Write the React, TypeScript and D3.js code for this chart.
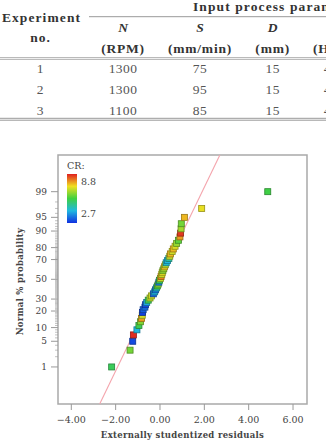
import React from "react";
import * as d3 from "d3";

// ---- table data ----
const tableCols = ["N", "S", "D", "H"];
const tableUnits = ["(RPM)", "(mm/min)", "(mm)", "(HRC)"];
const tableRows = [
  ["1", "1300", "75", "15", "450"],
  ["2", "1300", "95", "15", "450"],
  ["3", "1100", "85", "15", "450"],
];

// ---- normal plot data (sorted externally studentized residuals) ----
const residuals = [
  -2.18, -1.35, -1.23, -1.2, -1.04, -0.95, -0.88, -0.83, -0.8, -0.79,
  -0.76, -0.68, -0.65, -0.6, -0.53, -0.45, -0.38, -0.3, -0.24, -0.2,
  -0.16, -0.12, -0.08, -0.05, -0.02, 0.02, 0.05, 0.08, 0.1, 0.13,
  0.17, 0.2, 0.24, 0.28, 0.34, 0.4, 0.44, 0.47, 0.55, 0.6,
  0.68, 0.75, 0.83, 0.9, 0.93, 0.95, 0.96, 1.1, 1.88, 4.86,
];
const crValues = [
  5.5, 6.2, 3.0, 8.7, 4.2, 5.6, 6.3, 7.8, 7.0, 2.9,
  3.2, 3.4, 3.0, 4.0, 5.5, 6.8, 7.0, 3.3, 4.3, 3.5,
  4.5, 5.8, 6.4, 3.6, 5.5, 6.9, 8.0, 7.0, 7.2, 6.4,
  6.5, 7.5, 6.8, 4.4, 4.2, 4.8, 6.9, 7.6, 7.0, 7.6,
  7.1, 6.5, 6.0, 7.8, 8.6, 6.6, 6.2, 7.6, 7.2, 5.7,
];
const xTicks = [-4, -2, 0, 2, 4, 6];
const yTicks = [1, 5, 10, 20, 30, 50, 70, 80, 90, 95, 99];
const refLineX = [-2.72, 2.7];
const refLineZ = [-3.31, 3.3];
const crRange = [2.7, 8.8];

function probit(p: number): number {
  const a = [-39.69683028665376, 220.9460984245205, -275.9285104469687, 138.357751867269, -30.66479806614716, 2.506628277459239];
  const b = [-54.47609879822406, 161.5858368580409, -155.6989798598866, 66.80131188771972, -13.28068155288572];
  const c = [-0.007784894002430293, -0.3223964580411365, -2.400758277161838, -2.549671010229583, 4.374664141464968, 2.938163982698783];
  const d = [0.007784695709041462, 0.3224671290700398, 2.445134137142996, 3.754408661907416];
  const pl = 0.02425;
  if (p < pl) {
    const q = Math.sqrt(-2 * Math.log(p));
    return (((((c[0] * q + c[1]) * q + c[2]) * q + c[3]) * q + c[4]) * q + c[5]) / ((((d[0] * q + d[1]) * q + d[2]) * q + d[3]) * q + 1);
  }
  if (p > 1 - pl) {
    const q = Math.sqrt(-2 * Math.log(1 - p));
    return -(((((c[0] * q + c[1]) * q + c[2]) * q + c[3]) * q + c[4]) * q + c[5]) / ((((d[0] * q + d[1]) * q + d[2]) * q + d[3]) * q + 1);
  }
  const q = p - 0.5;
  const r = q * q;
  return ((((((a[0] * r + a[1]) * r + a[2]) * r + a[3]) * r + a[4]) * r + a[5]) * q) / (((((b[0] * r + b[1]) * r + b[2]) * r + b[3]) * r + b[4]) * r + 1);
}

export default function App() {
  const W = 326, H = 441;
  const L = 58, R = 307, T = 155, B = 404;
  const x = d3.scaleLinear().domain([-4.6, 6.63]).range([L, R]);
  const y = d3.scaleLinear().domain([-3.31, 3.3]).range([B, T]);
  const colorStops = ["#1030e0", "#20b8e0", "#40d040", "#f0e020", "#e02020"];
  const color = d3
    .scaleLinear<string>()
    .domain(d3.range(5).map((i) => crRange[0] + (i * (crRange[1] - crRange[0])) / 4))
    .range(colorStops);
  const n = residuals.length;
  const pts = residuals.map((r, i) => ({ r, z: probit((i + 0.5) / n), c: color(crValues[i]) }));
  const minor = d3.range(1, 100).filter((v) => !yTicks.includes(v));
  const grey = "#a9a9a9";
  const serif = "'DejaVu Serif', serif";
  const tser = "'Liberation Serif', serif";
  const colX = [123, 200, 272.7, 334.5];
  const rowY = [73, 94, 115.4];

  return (
    <div style={{ position: "absolute", left: 0, top: 0 }}>
      <svg width={W} height={H} style={{ display: "block", background: "#fff" }}>
        <defs>
          <linearGradient id="crgrad" x1="0" y1="1" x2="0" y2="0">
            {colorStops.map((c, i) => (
              <stop key={i} offset={`${(i / 4) * 100}%`} stopColor={c} />
            ))}
          </linearGradient>
          <clipPath id="plotclip">
            <rect x={L} y={T} width={R - L} height={B - T} />
          </clipPath>
        </defs>

        {/* ---------- table ---------- */}
        <g fontFamily={tser} fontSize={13.5} fill="#333">
          <text x={193} y={11} fontWeight="bold" letterSpacing={1.1}>Input process parameters</text>
          <line x1={89} x2={W} y1={16.7} y2={16.7} stroke="#999" strokeWidth={1} />
          <text x={41.5} y={22} textAnchor="middle" fontWeight="bold" letterSpacing={1.1}>Experiment</text>
          <text x={40.5} y={41.5} textAnchor="middle" fontWeight="bold" letterSpacing={1}>no.</text>
          {tableCols.map((c, i) => (
            <text key={c} x={colX[i]} y={32} textAnchor="middle" fontWeight="bold" fontStyle="italic">{c}</text>
          ))}
          {tableUnits.map((u, i) => (
            <text key={u} x={colX[i]} y={52.5} textAnchor="middle" fontWeight="bold" letterSpacing={0.8}>{u}</text>
          ))}
          <line x1={0} x2={W} y1={57.6} y2={57.6} stroke="#aaa" strokeWidth={0.9} />
          <line x1={0} x2={W} y1={59.4} y2={59.4} stroke="#aaa" strokeWidth={0.9} />
          {tableRows.map((row, ri) => (
            <g key={ri} fill="#555">
              <text x={40} y={rowY[ri]} textAnchor="middle">{row[0]}</text>
              {row.slice(1).map((v, ci) => (
                <text key={ci} x={colX[ci]} y={rowY[ri]} textAnchor="middle" letterSpacing={0.4}>{v}</text>
              ))}
            </g>
          ))}
          <line x1={0} x2={W} y1={118.3} y2={118.3} stroke="#999" strokeWidth={1} />
          <line x1={0} x2={W} y1={120.2} y2={120.2} stroke="#999" strokeWidth={1} />
        </g>

        {/* ---------- normal plot ---------- */}
        <rect x={L} y={T} width={R - L} height={B - T} fill="#fff" stroke={grey} strokeWidth={1.5} />

        {/* y ticks */}
        {minor.map((v) => (
          <line key={`m${v}`} x1={L - 3} x2={L} y1={y(probit(v / 100))} y2={y(probit(v / 100))} stroke="#999" strokeWidth={0.6} />
        ))}
        {yTicks.map((v) => (
          <g key={`y${v}`}>
            <line x1={L - 7} x2={L} y1={y(probit(v / 100))} y2={y(probit(v / 100))} stroke="#999" strokeWidth={1} />
            <text x={47} y={y(probit(v / 100))} dy="0.35em" textAnchor="end" fontFamily={serif} fontSize={9} fill="#444">{v}</text>
          </g>
        ))}

        {/* x ticks */}
        {xTicks.map((v) => (
          <g key={`x${v}`}>
            <line x1={x(v)} x2={x(v)} y1={B} y2={B + 6} stroke="#999" strokeWidth={1} />
            <text x={x(v)} y={422.5} textAnchor="middle" fontFamily={serif} fontSize={9.5} fill="#444">{d3.format(".2f")(v)}</text>
          </g>
        ))}

        {/* reference line */}
        <g clipPath="url(#plotclip)">
          <line x1={x(refLineX[0])} y1={y(refLineZ[0])} x2={x(refLineX[1])} y2={y(refLineZ[1])} stroke="#f4a4ac" strokeWidth={1.1} />
        </g>

        {/* points */}
        {pts.map((p, i) => (
          <rect key={i} x={x(p.r) - 3} y={y(p.z) - 3} width={6} height={6} fill={p.c}
            stroke={d3.color(p.c)!.darker(1.2).formatHex()} strokeWidth={0.8} />
        ))}

        {/* legend */}
        <text x={67} y={168.5} fontFamily={serif} fontSize={9.5} fill="#444">CR:</text>
        <rect x={67} y={174} width={10} height={49} fill="url(#crgrad)" />
        <text x={81} y={185} fontFamily={serif} fontSize={9.5} fill="#444">{crRange[1]}</text>
        <text x={81} y={216.5} fontFamily={serif} fontSize={9.5} fill="#444">{crRange[0]}</text>

        {/* axis titles */}
        <text x={(L + R) / 2} y={437.5} textAnchor="middle" fontFamily={serif} fontWeight="bold" fontSize={8.5} fill="#444" letterSpacing={0.3}>
          Externally studentized residuals
        </text>
        <text transform={`translate(23,${(T + B) / 2 + 2}) rotate(-90)`} textAnchor="middle" fontFamily={serif} fontWeight="bold" fontSize={8.5} fill="#444" letterSpacing={0.3}>
          Normal % probability
        </text>
      </svg>
    </div>
  );
}
